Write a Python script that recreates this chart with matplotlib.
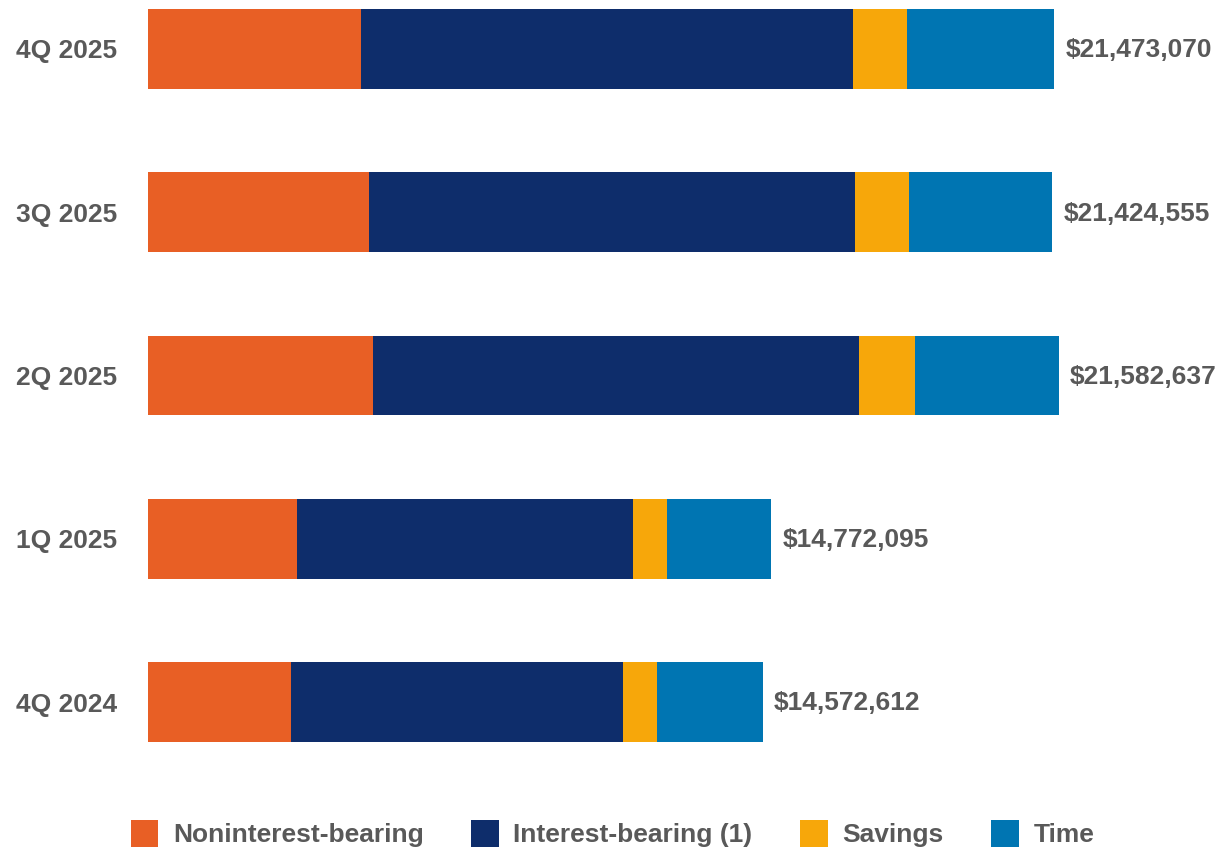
"""
Total deposits by quarter, stacked horizontal bars (in thousands of $)
"""

import matplotlib
matplotlib.use("Agg")
import matplotlib.pyplot as plt
from matplotlib.patches import Patch

plt.rcParams['font.family'] = ['Liberation Sans', 'DejaVu Sans']
plt.rcParams['font.weight'] = 'bold'

quarters = ["4Q 2024", "1Q 2025", "2Q 2025", "3Q 2025", "4Q 2025"]
totals = [14572612, 14772095, 21582637, 21424555, 21473070]

# segment values (thousands of $)
noninterest = [3388000, 3530000, 5330000, 5236000, 5046000]
interest = [7865000, 7960000, 11514000, 11514000, 11656000]
savings = [806000, 806000, 1327000, 1279000, 1279000]
time_dep = [2513612, 2476095, 3411637, 3395555, 3492070]

series_names = ["Noninterest-bearing", "Interest-bearing (1)", "Savings", "Time"]
series_colors = ["#E85F25", "#0E2D6B", "#F7A70A", "#0075B2"]
text_gray = "#595959"

fig = plt.figure(figsize=(12.2, 8.5), dpi=100)
ax = fig.add_axes([148 / 1220, 99 / 850, 1072 / 1220, 751 / 850])

ypos = list(range(len(quarters)))
left = [0] * len(quarters)
for vals, col in zip([noninterest, interest, savings, time_dep], series_colors):
    ax.barh(ypos, vals, left=left, height=0.49, color=col, edgecolor='none')
    left = [l + v for l, v in zip(left, vals)]

for y, tot in zip(ypos, totals):
    ax.annotate(f"${tot:,}", xy=(tot, y), xytext=(8, -1), textcoords='offset points',
                va='center', ha='left', fontsize=19, color=text_gray, fontweight='bold')

ax.set_xlim(0, 25400000)
ax.set_ylim(-0.3, 4.3)
ax.set_yticks(ypos)
ax.set_yticklabels(quarters, fontsize=19, color=text_gray, fontweight='bold')
ax.tick_params(axis='y', length=0, pad=22)
ax.set_xticks([])
for s in ax.spines.values():
    s.set_visible(False)

handles = [Patch(facecolor=c, edgecolor='none', label=n) for n, c in zip(series_names, series_colors)]
leg = fig.legend(handles=handles, loc='center', bbox_to_anchor=(0.502, 0.0194), ncol=4,
                 frameon=False, fontsize=19, handlelength=1.05, handleheight=1.2,
                 handletextpad=0.55, columnspacing=1.8, borderpad=0)
for t in leg.get_texts():
    t.set_color(text_gray)
    t.set_fontweight('bold')

fig.savefig("out.png", dpi=100)
